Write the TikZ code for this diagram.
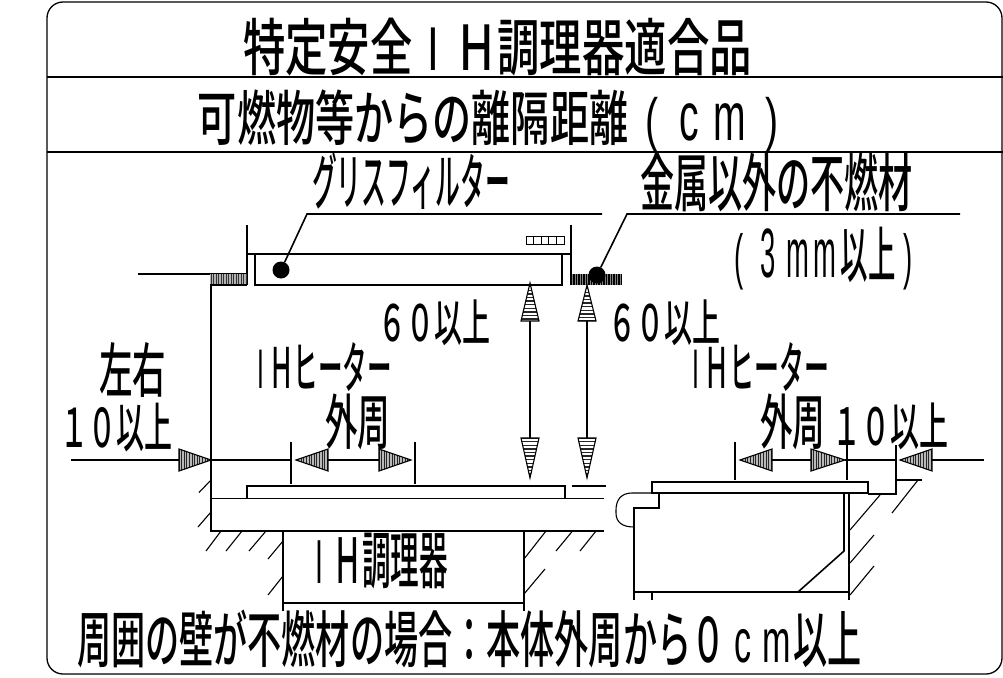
\documentclass[tikz,border=0pt]{standalone}
\usepackage{fontspec}
\usepackage{graphicx}
\newfontfamily\jp{Noto Sans CJK JP Medium}
\newfontfamily\lat{Liberation Sans}
\tikzset{
 thinl/.style={line width=1.1pt,black},
 medl/.style={line width=1.6pt,black},
 frame/.style={line width=1.3pt,black,rounded corners=16pt},
 lbl/.style={inner sep=0pt,outer sep=0pt,text=black},
 dotm/.style={circle,fill=black,inner sep=0pt,minimum size=17pt},
}
\newcommand{\jt}[6]{\node[lbl] (#1) at ({(#2+#3)/2},{(#4+#5)/2}) {\resizebox*{\dimexpr #3pt-#2pt\relax}{\dimexpr #5pt-#4pt\relax}{\jp #6}};}
\newcommand{\cellc}[2]{\makebox[#1em][c]{\lat #2}}
\newcommand{\celll}[2]{\makebox[#1em][l]{\lat\scalebox{1}[1.15]{#2}}}
\newcommand{\cellp}[2]{\makebox[#1em][l]{\lat #2}}
% horizontal arrow head: tip x, base x, y
\newcommand{\hhead}[3]{\begin{scope}
 \clip (#1,#3) -- (#2,#3-11) -- (#2,#3+11) -- cycle;
 \fill[gray!55] (#1,#3-11) rectangle (#2,#3+11);
 \foreach \i in {0,2.6,...,33} {\draw[line width=1pt,black!85] ({min(#1,#2)+\i},#3-11) -- ({min(#1,#2)+\i},#3+11);}
 \end{scope}
 \draw[thinl,line join=miter] (#1,#3) -- (#2,#3-11) -- (#2,#3+11) -- cycle;}
% vertical arrow head: x, tip y, base y
\newcommand{\vhead}[3]{\begin{scope}
 \clip (#1,#2) -- (#1-9,#3) -- (#1+9,#3) -- cycle;
 \fill[white] (#1-9,#2) rectangle (#1+9,#3);
 \foreach \i in {0,3.6,...,40} {\draw[line width=1.4pt,black!85] (#1-9,{min(#2,#3)+\i}) -- (#1+9,{min(#2,#3)+\i});}
 \end{scope}
 \draw[thinl] (#1,#2) -- (#1-9,#3) -- (#1+9,#3) -- cycle;}
\begin{document}
\begin{tikzpicture}[x=1pt,y=-1pt]
\useasboundingbox (0,0) rectangle (1003,677);
\fill[white] (0,0) rectangle (1003,677);
% frame
\draw[frame] (47,2) rectangle (1002,674);
\draw[medl] (47,77) -- (1003,77);
\draw[medl] (47,152) -- (1003,152);
% labels
\jt{t1}{243}{752}{18}{76}{特定安全\cellc{1}{I}Ｈ調理器適合品}
\jt{t2}{198}{778}{90}{153}{可燃物等からの離隔距離\kern.45em\cellp{.87}{(}\celll{.86}{c}\celll{1.32}{m}\cellp{.33}{)}}
\jt{t3}{312}{510}{153}{210}{グリスフィルター}
\jt{t4}{640}{913}{153}{212}{金属以外の不燃材}
\jt{t5}{735}{913}{227}{290}{\cellp{.93}{(}\celll{.93}{3}\celll{1}{m}\celll{1}{m}以上\kern.3em\cellp{.33}{)}}
\jt{t6}{378}{490}{300}{346}{６０以上}
\jt{t7}{608}{720}{300}{346}{６０以上}
\jt{t8}{99}{166}{343}{398}{左右}
\jt{t9}{60}{172}{403}{452}{１０以上}
\jt{t10}{252}{392}{343}{392}{\cellc{.7}{I}Ｈヒーター}
\jt{t11}{325}{390}{394}{450}{外周}
\jt{t12}{687}{829}{343}{392}{\cellc{.7}{I}Ｈヒーター}
\jt{t13}{760}{825}{394}{450}{外周}
\jt{t14}{832}{948}{403}{450}{１０以上}
\jt{t15}{305}{448}{533}{589}{\cellc{1}{I}Ｈ調理器}
\jt{t16}{77}{862}{610}{668}{周囲の壁が不燃材の場合：本体外周から０\cellc{1}{c}\cellc{1}{m}以上}
% hood
\draw[thinl] (247,225) -- (247,285);
\draw[thinl] (571,225) -- (571,285);
\draw[thinl] (247,254) -- (571,254);
\draw[medl] (255,254) -- (255,285) -- (562,285) -- (562,254);
\draw[thinl] (138,274) -- (247,274);
\fill[gray!60] (210,274) rectangle (247,285);
\foreach \x in {211,213.5,...,247} \draw[line width=1pt,black!80] (\x,274) -- (\x,285);
\draw[thinl] (210,285) -- (247,285);
\fill[gray] (571,274) rectangle (622,285);
\foreach \x in {571.5,574,...,622} \draw[line width=1.6pt,black] (\x,274) -- (\x,285);
\node[dotm] (d1) at (281,270) {};
\node[dotm] (d2) at (597,275) {};
\coordinate (l1) at (307,214); \coordinate (l1e) at (602,214);
\coordinate (l2) at (627,214); \coordinate (l2e) at (960,214);
\draw[medl] (d1) -- (l1) -- (l1e);
\draw[medl] (d2) -- (l2) -- (l2e);
\draw[line width=.8pt] (526,236) rectangle (564,244);
\foreach \x in {533.6,541.2,548.8,556.4} \draw[line width=.8pt] (\x,236) -- (\x,244);
% vertical dims
\draw[thinl] (530,321) -- (530,438);
\draw[thinl] (587,321) -- (587,438);
\vhead{530}{283}{321}
\vhead{587}{285}{321}
\vhead{530}{478}{438}
\vhead{587}{478}{438}
% left section
\draw[thinl] (211,285) -- (211,531) -- (604,531);
\draw[medl] (211,498.5) -- (604,498.5);
\draw[medl] (247,498.5) -- (247,486) -- (565,486) -- (565,498.5);
\draw[thinl] (572,486) -- (606,486);
\draw[thinl] (283,531) -- (283,611);
\draw[thinl] (524,531) -- (524,611);
\draw[medl] (283,603) -- (524,603);
\foreach \a/\b/\c/\d in {199/492.5/211/480,198/527/211/512,206/551/221/531,226/551/242/531,249/551/266/531,268/559/283/541,268/595/283/576,524/559/546/531,524/594/545/569,556/551/572.5/531,580/551/596/531}
  \draw[thinl] (\a,\b) -- (\c,\d);
% left horizontal dims
\draw[thinl] (71,460) -- (179,460);
\draw[thinl] (211,460) -- (291,460);
\draw[thinl] (328,460) -- (379,460);
\draw[thinl] (291,442) -- (291,484);
\draw[thinl] (415,442) -- (415,484);
\hhead{211}{179}{460}
\hhead{296}{328}{460}
\hhead{411}{379}{460}
% right section
\draw[medl,fill=white] (652,482) rectangle (868,493);
\draw[thinl] (652,493) -- (632,493) .. controls (621,493) and (616,500) .. (616,510) -- (616,513) .. controls (616,522) and (622,527) .. (634,527);
\draw[medl] (659,493) -- (659,508) -- (634,508) -- (634,600);
\draw[medl] (634,592) -- (849,592);
\draw[thinl] (652,592) -- (652,600);
\draw[medl] (849,493) -- (849,600);
\draw[medl] (844,493) -- (844,551) -- (798,592);
\draw[thinl] (868,494) -- (896,494);
\draw[medl] (896,445) -- (896,495);
\foreach \a/\b/\c/\d in {850/530/880/495,850/563/874/535,850/595/874/566,892/513/918/480}
  \draw[thinl] (\a,\b) -- (\c,\d);
\draw[thinl] (896,480) -- (922,480);
\draw[thinl] (735,442) -- (735,480);
\draw[thinl] (847,442) -- (847,480);
\draw[thinl] (772,460) -- (811,460);
\draw[thinl] (845,460) -- (896,460);
\draw[thinl] (932,460) -- (984,460);
\hhead{740}{772}{460}
\hhead{845}{811}{460}
\hhead{900}{932}{460}
\end{tikzpicture}
\end{document}
